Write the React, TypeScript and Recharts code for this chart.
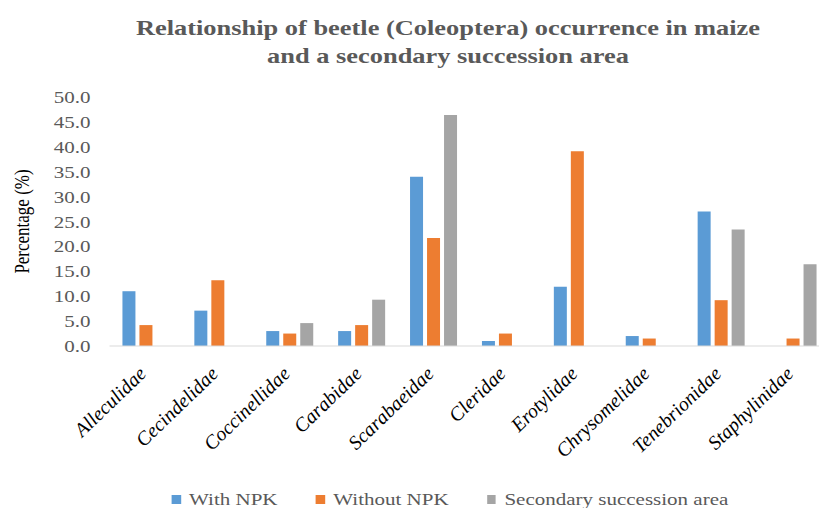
import React from "react";
import { BarChart, Bar, XAxis, YAxis, Legend } from "recharts";

const categories = [
  "Alleculidae",
  "Cecindelidae",
  "Coccinellidae",
  "Carabidae",
  "Scarabaeidae",
  "Cleridae",
  "Erotylidae",
  "Chrysomelidae",
  "Tenebrionidae",
  "Staphylinidae",
];
const withNPK = [11.0, 7.1, 3.0, 3.0, 34.0, 1.0, 11.9, 2.0, 27.0, 0];
const withoutNPK = [4.2, 13.2, 2.5, 4.2, 21.7, 2.5, 39.1, 1.5, 9.2, 1.5];
const secondary = [0, 0, 4.6, 9.3, 46.4, 0, 0, 0, 23.4, 16.4];
const yTicks = [0, 5, 10, 15, 20, 25, 30, 35, 40, 45, 50];

const seriesNames = ["With NPK", "Without NPK", "Secondary succession area"];
const colors = ["#5B9BD5", "#ED7D31", "#A5A5A5"];

const data = categories.map((c, i) => ({
  name: c,
  a: withNPK[i],
  b: withoutNPK[i],
  c: secondary[i],
}));

const SERIF = "Liberation Serif, DejaVu Serif, serif";
const SX = 1.2;

const XTick = (props: any) => {
  const { x, y, payload } = props;
  return (
    <g transform={`translate(${x + 2},${y + 21}) scale(1.04,1) rotate(-45)`}>
      <text
        textAnchor="end"
        style={{ fontFamily: SERIF, fontStyle: "italic", fontSize: 19.5 }}
        fill="#000"
      >
        {payload.value}
      </text>
    </g>
  );
};

const YTick = (props: any) => {
  const { x, y, payload } = props;
  return (
    <g transform={`translate(${x - 19},${y}) scale(${SX},1)`}>
      <text
        dy={6}
        textAnchor="end"
        style={{ fontFamily: SERIF, fontSize: 17.5 }}
        fill="#595959"
      >
        {Number(payload.value).toFixed(1)}
      </text>
    </g>
  );
};

const YLabel = (props: any) => {
  const { viewBox } = props;
  const cx = viewBox.x + 22;
  const cy = viewBox.y + viewBox.height / 2;
  return (
    <g transform={`translate(${cx},${cy}) scale(${SX},1) rotate(-90)`}>
      <text
        textAnchor="middle"
        dominantBaseline="central"
        style={{ fontFamily: SERIF, fontSize: 17 }}
        fill="#000"
      >
        Percentage (%)
      </text>
    </g>
  );
};

const LegendContent = () => (
  <div
    style={{
      display: "flex",
      justifyContent: "center",
      alignItems: "center",
      fontFamily: SERIF,
      fontSize: 17.5,
      color: "#595959",
      transform: `scaleX(${SX})`,
      transformOrigin: "450px 50%",
      width: 900,
    }}
  >
    {seriesNames.map((n, i) => (
      <div
        key={n}
        style={{ display: "flex", alignItems: "center", marginLeft: i === 0 ? 0 : 32 }}
      >
        <span
          style={{
            display: "inline-block",
            width: 7.5,
            height: 9,
            background: colors[i],
            marginRight: 7,
          }}
        />
        <span>{n}</span>
      </div>
    ))}
  </div>
);

export default function App() {
  return (
    <div
      style={{
        position: "absolute",
        left: 0,
        top: 0,
        width: 819,
        height: 508,
        overflow: "hidden",
        background: "#fff",
      }}
    >
      <div
        style={{
          position: "absolute",
          left: 0,
          top: 14,
          width: 896,
          textAlign: "center",
          fontFamily: SERIF,
          fontWeight: "bold",
          fontSize: 22,
          lineHeight: "28px",
          color: "#595959",
          transform: `scaleX(${SX})`,
          transformOrigin: "448px 50%",
        }}
      >
        Relationship of beetle (Coleoptera) occurrence in maize
        <br />
        and a secondary succession area
      </div>
      <div style={{ position: "absolute", left: 0, top: 0 }}>
        <BarChart
          width={840}
          height={508}
          data={data}
          margin={{ top: 97, right: 11.5, bottom: 0, left: 0 }}
          barCategoryGap="18%"
          barGap={4}
        >
          <XAxis
            dataKey="name"
            interval={0}
            height={162}
            tick={<XTick />}
            tickLine={false}
            axisLine={{ stroke: "#D9D9D9", strokeWidth: 1 }}
          />
          <YAxis
            width={109.5}
            domain={[0, 50]}
            ticks={yTicks}
            tick={<YTick />}
            tickLine={false}
            axisLine={false}
            tickSize={0}
            tickMargin={0}
            label={<YLabel />}
          />
          <Legend
            layout="horizontal"
            verticalAlign="middle"
            align="center"
            wrapperStyle={{ position: "absolute", top: 489, left: 0, width: 900 }}
            content={<LegendContent />}
          />
          <Bar dataKey="a" name={seriesNames[0]} fill={colors[0]} isAnimationActive={false} />
          <Bar dataKey="b" name={seriesNames[1]} fill={colors[1]} isAnimationActive={false} />
          <Bar dataKey="c" name={seriesNames[2]} fill={colors[2]} isAnimationActive={false} />
        </BarChart>
      </div>
    </div>
  );
}
